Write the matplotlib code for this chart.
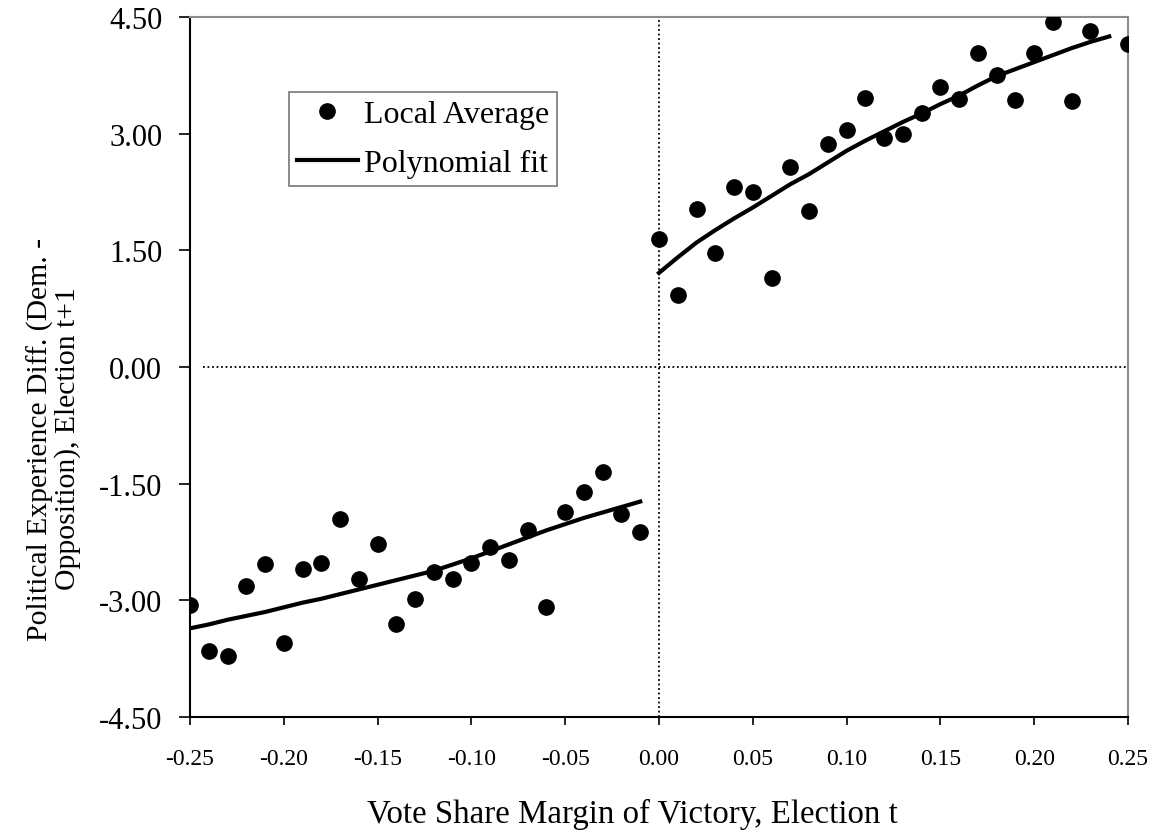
import matplotlib as mpl
mpl.use('Agg')

import numpy as np
import matplotlib.pyplot as plt
from matplotlib.ticker import FormatStrFormatter

plt.rcParams['font.family'] = ['Liberation Serif', 'DejaVu Serif']

# local averages, left of the cutoff
left_x = [-0.25, -0.24, -0.23, -0.22, -0.21, -0.20, -0.19, -0.18, -0.17, -0.16,
          -0.15, -0.14, -0.13, -0.12, -0.11, -0.10, -0.09, -0.08, -0.07, -0.06,
          -0.05, -0.04, -0.03, -0.02, -0.01]
left_avg = [-3.06, -3.65, -3.71, -2.81, -2.53, -3.55, -2.60, -2.52, -1.96, -2.73,
            -2.28, -3.30, -2.98, -2.63, -2.73, -2.52, -2.31, -2.48, -2.09, -3.09,
            -1.86, -1.61, -1.35, -1.89, -2.12]
left_fit = [-3.36, -3.31, -3.25, -3.20, -3.15, -3.09, -3.03, -2.98, -2.92, -2.86,
            -2.80, -2.74, -2.68, -2.62, -2.54, -2.46, -2.37, -2.28, -2.19, -2.10,
            -2.02, -1.94, -1.87, -1.80, -1.73]

# local averages, right of the cutoff (no point at 0.24)
right_x = [0.00, 0.01, 0.02, 0.03, 0.04, 0.05, 0.06, 0.07, 0.08, 0.09, 0.10, 0.11,
           0.12, 0.13, 0.14, 0.15, 0.16, 0.17, 0.18, 0.19, 0.20, 0.21, 0.22, 0.23, 0.25]
right_avg = [1.65, 0.93, 2.03, 1.47, 2.32, 2.25, 1.14, 2.57, 2.01, 2.87, 3.05, 3.46,
             2.95, 2.99, 3.26, 3.60, 3.44, 4.04, 3.75, 3.43, 4.04, 4.43, 3.42, 4.32, 4.15]
fit_right_x = [0.00, 0.01, 0.02, 0.03, 0.04, 0.05, 0.06, 0.07, 0.08, 0.09, 0.10, 0.11,
               0.12, 0.13, 0.14, 0.15, 0.16, 0.17, 0.18, 0.19, 0.20, 0.21, 0.22, 0.23, 0.24]
right_fit = [1.21, 1.41, 1.60, 1.76, 1.91, 2.05, 2.20, 2.35, 2.48, 2.63, 2.78, 2.91,
             3.03, 3.15, 3.26, 3.38, 3.49, 3.62, 3.74, 3.83, 3.92, 4.01, 4.10, 4.18, 4.25]

xticks = [-0.25, -0.20, -0.15, -0.10, -0.05, 0.00, 0.05, 0.10, 0.15, 0.20, 0.25]
yticks = [-4.50, -3.00, -1.50, 0.00, 1.50, 3.00, 4.50]

fig = plt.figure(figsize=(11.56, 8.37), dpi=100)
ax = fig.add_axes([190/1156, 1-718/837, 938/1156, 700/837])

# reference lines
ax.plot([-0.243, 0.25], [0, 0], color='black', lw=1.3, ls=(0, (1, 1.5)), zorder=1)
ax.plot([0, 0], [-4.5, 4.5], color='black', lw=1.3, ls=(0, (1, 1.5)), zorder=1)

ax.plot(left_x, left_avg, 'o', color='black', ms=11, label='Local Average', zorder=3)
ax.plot(right_x, right_avg, 'o', color='black', ms=11, zorder=3)
ax.plot(left_x, left_fit, '-', color='black', lw=3, label='Polynomial fit', zorder=2)
ax.plot(fit_right_x, right_fit, '-', color='black', lw=3, zorder=2)

ax.set_xlim(-0.25, 0.25)
ax.set_ylim(-4.5, 4.5)
ax.set_xticks(xticks)
ax.set_yticks(yticks)
ax.xaxis.set_major_formatter(FormatStrFormatter('%.2f'))
ax.yaxis.set_major_formatter(FormatStrFormatter('%.2f'))
ax.tick_params(axis='x', labelsize=17, length=6, width=1.2, pad=16, direction='out')
ax.tick_params(axis='y', labelsize=22, length=8, width=1.2, pad=12, direction='out')

for side in ['left', 'bottom']:
    ax.spines[side].set_color('black')
    ax.spines[side].set_linewidth(1.5)
for side in ['top', 'right']:
    ax.spines[side].set_color('#8c8c8c')
    ax.spines[side].set_linewidth(1.5)

leg = ax.legend(loc='upper left', bbox_to_anchor=(0.1055, 0.893), fontsize=23,
                frameon=True, fancybox=False, edgecolor='#555555',
                borderpad=0.25, handlelength=1.9, handletextpad=0.2,
                labelspacing=0.6, borderaxespad=0)
leg.get_frame().set_linewidth(1.2)

fig.text(632/1156, 1-814/837, 'Vote Share Margin of Victory, Election t',
         fontsize=23.7, ha='center', va='center')
fig.text(54/1156, 1-439/837,
         'Political Experience Diff. (Dem. -\nOpposition), Election t+1',
         fontsize=21.3, rotation=90, ha='center', va='center',
         multialignment='center', linespacing=1.0)

fig.savefig('out.png', dpi=100)
